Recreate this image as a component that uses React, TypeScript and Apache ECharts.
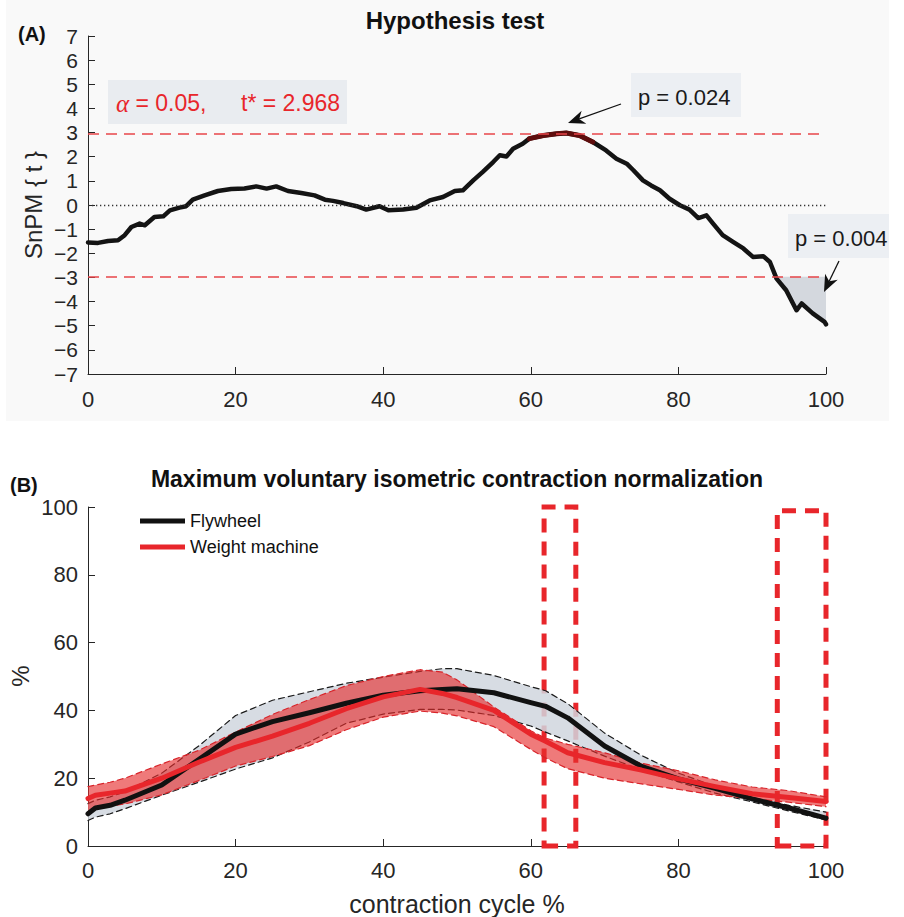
import React, { useEffect, useRef } from 'react';
import * as echarts from 'echarts';

// ---------- Panel A: SnPM{t} curve ----------
const tX = [0, 1.36, 2.71, 4.07, 4.97, 5.88, 7.0, 7.7, 9.0, 10.2, 11.1, 12.4, 13.3, 14.2, 15.8, 17.6, 19.4, 21.2, 22.8, 24.2, 25.5, 27.1, 28.9, 30.7, 32.1, 33.2, 34.6, 36.4, 37.7, 39.5, 40.7, 42.7, 44.5, 46.3, 48.1, 49.7, 50.8, 52.2, 53.5, 54.9, 55.8, 56.7, 57.6, 58.9, 59.8, 61.7, 63.5, 64.8, 66.6, 68.4, 70.2, 71.6, 73.0, 73.9, 75.2, 76.3, 77.5, 78.8, 80.2, 81.5, 82.7, 83.8, 84.7, 86.0, 87.4, 88.8, 90.1, 91.5, 92.4, 93.3, 94.6, 96.0, 96.7, 98.2, 99.8, 100];
const tY = [-1.55, -1.57, -1.49, -1.46, -1.25, -0.91, -0.77, -0.84, -0.5, -0.47, -0.22, -0.11, -0.05, 0.22, 0.4, 0.58, 0.66, 0.68, 0.77, 0.68, 0.77, 0.58, 0.5, 0.4, 0.22, 0.17, 0.08, -0.05, -0.19, -0.05, -0.22, -0.19, -0.11, 0.19, 0.33, 0.58, 0.61, 1.02, 1.37, 1.78, 2.06, 2.01, 2.33, 2.54, 2.75, 2.88, 2.95, 2.98, 2.88, 2.61, 2.26, 1.92, 1.71, 1.44, 1.02, 0.81, 0.61, 0.26, -0.01, -0.19, -0.54, -0.43, -0.77, -1.25, -1.53, -1.8, -2.15, -2.12, -2.36, -3.05, -3.53, -4.36, -4.08, -4.49, -4.84, -4.94];
const tCritical = 2.968;
const alphaLabel = '0.05';
const pValues = ['0.024', '0.004'];

// ---------- Panel B: MVIC normalisation ----------
const bX = [0, 1, 3, 5, 10, 15, 20, 25, 30, 35, 40, 45, 48, 50, 55, 60, 62, 65, 70, 75, 80, 85, 90, 95, 100];
const flyMean = [9.5, 11.2, 12, 13.5, 18, 25.5, 33, 36.7, 39.3, 42.1, 44.5, 45.8, 46.2, 46.4, 45.2, 42.3, 41.2, 37.8, 29.5, 23.5, 19.8, 17, 13.9, 11.2, 8.2];
const flyUpper = [12.5, 13.5, 14.5, 16, 21.5, 29.5, 38.5, 43, 45.5, 48, 49.8, 51.5, 52.3, 52.3, 50.3, 47, 45.8, 42, 33.3, 26.7, 21.5, 17.6, 14.3, 12, 10];
const flyLower = [7.5, 8.5, 9.5, 11, 15, 18.8, 22.7, 26, 30.7, 36.2, 38.9, 40.3, 40.3, 40.1, 38.5, 35.4, 33.6, 31, 26.5, 22.4, 18.9, 15.6, 13, 10.3, 7.7];
const wmMean = [14, 15, 15.6, 16.2, 20, 24.7, 29.1, 32.4, 36.2, 40.5, 44, 46.2, 45, 43.8, 40, 33, 30.9, 27.5, 24.6, 22.4, 19.8, 17.5, 15.4, 14.3, 13.1];
const wmUpper = [17.5, 18, 18.8, 20, 24.2, 28.2, 33.6, 38.8, 43.2, 47.3, 50, 52, 51.3, 49, 41, 34, 31.8, 30, 27.5, 24.4, 22.2, 19.5, 17.4, 16.3, 14.5];
const wmLower = [10, 11, 11.8, 12.4, 15.1, 19.3, 23.6, 26.4, 29.6, 34.3, 38, 39.8, 39.2, 38.4, 35.2, 28.5, 26, 22.8, 20, 18.3, 16.7, 15, 14, 12.9, 11.6];
const sigRegions = [[61.8, 66.1, 100], [93.4, 100, 98.9]]; // [xStart, xEnd, yTop]
const seriesNames = ['Flywheel', 'Weight machine'];

const FONT = '"Liberation Sans", Arial, Helvetica, sans-serif';
const INK = '#262626';
const RED = '#e8262b';

function zip(xs: number[], ys: number[]) {
  return xs.map((x, i) => [x, ys[i]]);
}

function arrowHead(tx: number, ty: number, px: number, py: number, L = 17, W = 7) {
  const dx = px - tx, dy = py - ty;
  const len = Math.hypot(dx, dy);
  const ux = dx / len, uy = dy / len;
  const nx = -uy, ny = ux;
  return [
    [px, py],
    [px - L * ux + W * nx, py - L * uy + W * ny],
    [px - 0.7 * L * ux, py - 0.7 * L * uy],
    [px - L * ux - W * nx, py - L * uy - W * ny],
  ];
}

export default function App() {
  const ref = useRef<HTMLDivElement>(null);

  useEffect(() => {
    const chart = echarts.init(ref.current!, null, { renderer: 'svg' });

    // suprathreshold cluster fill (below -t*)
    const fillPts: number[][] = [];
    for (let i = 1; i < tX.length; i++) {
      const y0 = tY[i - 1], y1 = tY[i];
      if (y0 >= -tCritical && y1 < -tCritical) {
        const f = (-tCritical - y0) / (y1 - y0);
        fillPts.push([tX[i - 1] + f * (tX[i] - tX[i - 1]), -tCritical]);
      }
      if (y1 < -tCritical) fillPts.push([tX[i], y1]);
    }
    fillPts.push([tX[tX.length - 1], -tCritical]);

    const peakPts = zip(tX, tY).filter((p) => p[1] > 2.6);

    const flyBand = [...zip(bX, flyUpper), ...zip(bX, flyLower).reverse()];
    const wmBand = [...zip(bX, wmUpper), ...zip(bX, wmLower).reverse()];

    const polySeries = (pts: number[][], fill: string, idx: number, z: number) => ({
      type: 'custom',
      coordinateSystem: 'cartesian2d',
      xAxisIndex: idx,
      yAxisIndex: idx,
      silent: true,
      z,
      data: [[pts[0][0], pts[0][1]]],
      renderItem: (_p: any, api: any) => ({
        type: 'polygon',
        shape: { points: pts.map((p) => api.coord(p)) },
        style: { fill, stroke: 'none' },
      }),
    });

    const lineSeries = (name: string, data: number[][], idx: number, color: string, width: number, type: any, z: number, extra: any = {}) => ({
      type: 'line',
      name,
      xAxisIndex: idx,
      yAxisIndex: idx,
      data,
      showSymbol: false,
      symbol: 'none',
      silent: true,
      z,
      lineStyle: { color, width, type, cap: 'round', join: 'round' },
      ...extra,
    });

    const axisBase = {
      type: 'value',
      axisLine: { show: true, onZero: false, lineStyle: { color: INK, width: 1 } },
      axisTick: { show: true, inside: true, length: 7, lineStyle: { color: INK, width: 1 } },
      splitLine: { show: false },
    };

    const a1 = arrowHead(621, 104, 568, 123);
    const a2 = arrowHead(839, 261, 824, 292);

    const option: any = {
      animation: false,
      backgroundColor: '#ffffff',
      grid: [
        { left: 88, top: 36, width: 738, height: 338 },
        { left: 88, top: 507, width: 738, height: 339 },
      ],
      xAxis: [
        { ...axisBase, gridIndex: 0, min: 0, max: 100, interval: 20, axisLabel: { color: INK, fontSize: 22, fontFamily: FONT, margin: 14 } },
        { ...axisBase, gridIndex: 1, min: 0, max: 100, interval: 20, axisLabel: { color: INK, fontSize: 22, fontFamily: FONT, margin: 13 } },
      ],
      yAxis: [
        {
          ...axisBase, gridIndex: 0, min: -7, max: 7, interval: 1,
          axisLabel: { color: INK, fontSize: 21, fontFamily: FONT, margin: 10, formatter: (v: number) => String(v).replace('-', '\u2212') },
        },
        { ...axisBase, gridIndex: 1, min: 0, max: 100, interval: 20, axisLabel: { color: INK, fontSize: 22, fontFamily: FONT, margin: 10 } },
      ],
      series: [
        polySeries(fillPts, '#d4d8de', 0, 1),
        lineSeries('SnPM{t}', zip(tX, tY), 0, '#141414', 4.5, 'solid', 3, {
          markLine: {
            silent: true,
            symbol: 'none',
            label: { show: false },
            data: [
              { yAxis: tCritical, lineStyle: { color: '#e8454a', width: 1.5, type: [11, 7] } },
              { yAxis: -tCritical, lineStyle: { color: '#e8454a', width: 1.5, type: [11, 7] } },
              { yAxis: 0, lineStyle: { color: '#333333', width: 1.3, type: [1.3, 2.7] } },
            ],
          },
        }),
        lineSeries('suprathreshold', peakPts, 0, '#5e0d0d', 5, 'solid', 4),

        polySeries(flyBand, 'rgba(208,214,222,0.85)', 1, 1),
        lineSeries('flyUpper', zip(bX, flyUpper), 1, '#1a1a1a', 1.2, [6, 4], 2),
        lineSeries('flyLower', zip(bX, flyLower), 1, '#1a1a1a', 1.2, [6, 4], 2),
        polySeries(wmBand, 'rgba(230,45,45,0.63)', 1, 3),
        lineSeries('wmUpper', zip(bX, wmUpper), 1, '#d8242a', 1.2, [6, 4], 4),
        lineSeries('wmLower', zip(bX, wmLower), 1, '#d8242a', 1.2, [6, 4], 4),
        lineSeries(seriesNames[0], zip(bX, flyMean), 1, '#111111', 5, 'solid', 5),
        lineSeries(seriesNames[1], zip(bX, wmMean), 1, RED, 5, 'solid', 6, {
          clip: false,
          markArea: {
            silent: true,
            label: { show: false },
            itemStyle: { color: 'rgba(0,0,0,0)', borderColor: RED, borderWidth: 5, borderType: [14, 9] },
            data: sigRegions.map((r) => [{ xAxis: r[0], yAxis: 0 }, { xAxis: r[1], yAxis: r[2] }]),
          },
        }),
      ],
      graphic: [
        { type: 'rect', z: -100, silent: true, shape: { x: 6, y: 0, width: 883, height: 421 }, style: { fill: '#f9f9f9' } },
        // panel A annotations
        { type: 'rect', z: 10, shape: { x: 108, y: 80, width: 239, height: 44 }, style: { fill: '#e9ecf0' } },
        {
          type: 'text', z: 11, x: 116, y: 103,
          style: {
            text: '{a|\u03b1} = ' + alphaLabel + ',',
            fill: RED, fontSize: 23, fontFamily: FONT, verticalAlign: 'middle',
            rich: { a: { fontFamily: '"Liberation Serif", "DejaVu Serif", serif', fontStyle: 'italic', fontSize: 25, fill: RED } },
          },
        },
        { type: 'text', z: 11, x: 241, y: 103, style: { text: 't* = ' + tCritical.toFixed(3), fill: RED, fontSize: 23, fontFamily: FONT, verticalAlign: 'middle' } },
        { type: 'rect', z: 10, shape: { x: 631, y: 73, width: 110, height: 44 }, style: { fill: '#eceff3' } },
        { type: 'text', z: 11, x: 638, y: 97, style: { text: 'p = ' + pValues[0], fill: '#1a1a1a', fontSize: 22, fontFamily: FONT, verticalAlign: 'middle' } },
        { type: 'line', z: 11, shape: { x1: 621, y1: 104, x2: a1[2][0], y2: a1[2][1] }, style: { stroke: '#111', lineWidth: 1.3 } },
        { type: 'polygon', z: 11, shape: { points: a1 }, style: { fill: '#111' } },
        { type: 'rect', z: 10, shape: { x: 788, y: 214, width: 101, height: 44 }, style: { fill: '#eceff3' } },
        { type: 'text', z: 11, x: 795, y: 238, style: { text: 'p = ' + pValues[1], fill: '#1a1a1a', fontSize: 22, fontFamily: FONT, verticalAlign: 'middle' } },
        { type: 'line', z: 11, shape: { x1: 839, y1: 261, x2: a2[2][0], y2: a2[2][1] }, style: { stroke: '#111', lineWidth: 1.3 } },
        { type: 'polygon', z: 11, shape: { points: a2 }, style: { fill: '#111' } },
        // titles & labels
        { type: 'text', x: 455, y: 20, style: { text: 'Hypothesis test', fill: '#111', fontSize: 24, fontWeight: 'bold', fontFamily: FONT, align: 'center', verticalAlign: 'middle' } },
        { type: 'text', x: 18, y: 34, style: { text: '(A)', fill: '#111', fontSize: 20, fontWeight: 'bold', fontFamily: FONT, verticalAlign: 'middle' } },
        { type: 'text', x: 33, y: 205, rotation: Math.PI / 2, style: { text: 'SnPM { t }', fill: INK, fontSize: 24, fontFamily: FONT, align: 'center', verticalAlign: 'middle' } },
        { type: 'text', x: 457, y: 479, style: { text: 'Maximum voluntary isometric contraction normalization', fill: '#111', fontSize: 23, fontWeight: 'bold', fontFamily: FONT, align: 'center', verticalAlign: 'middle' } },
        { type: 'text', x: 10, y: 485, style: { text: '(B)', fill: '#111', fontSize: 20, fontWeight: 'bold', fontFamily: FONT, verticalAlign: 'middle' } },
        { type: 'text', x: 20, y: 676, rotation: Math.PI / 2, style: { text: '%', fill: INK, fontSize: 24, fontFamily: FONT, align: 'center', verticalAlign: 'middle' } },
        { type: 'text', x: 457, y: 904, style: { text: 'contraction cycle %', fill: INK, fontSize: 25, fontFamily: FONT, align: 'center', verticalAlign: 'middle' } },
        // legend
        { type: 'line', z: 20, shape: { x1: 140, y1: 521, x2: 185, y2: 521 }, style: { stroke: '#111', lineWidth: 5 } },
        { type: 'text', z: 20, x: 190, y: 521, style: { text: seriesNames[0], fill: '#111', fontSize: 18, fontFamily: FONT, verticalAlign: 'middle' } },
        { type: 'line', z: 20, shape: { x1: 140, y1: 547, x2: 185, y2: 547 }, style: { stroke: RED, lineWidth: 5 } },
        { type: 'text', z: 20, x: 190, y: 547, style: { text: seriesNames[1], fill: '#111', fontSize: 18, fontFamily: FONT, verticalAlign: 'middle' } },
      ],
    };

    chart.setOption(option);
    return () => chart.dispose();
  }, []);

  return <div ref={ref} style={{ position: 'fixed', left: 0, top: 0, width: 904, height: 917 }} />;
}
